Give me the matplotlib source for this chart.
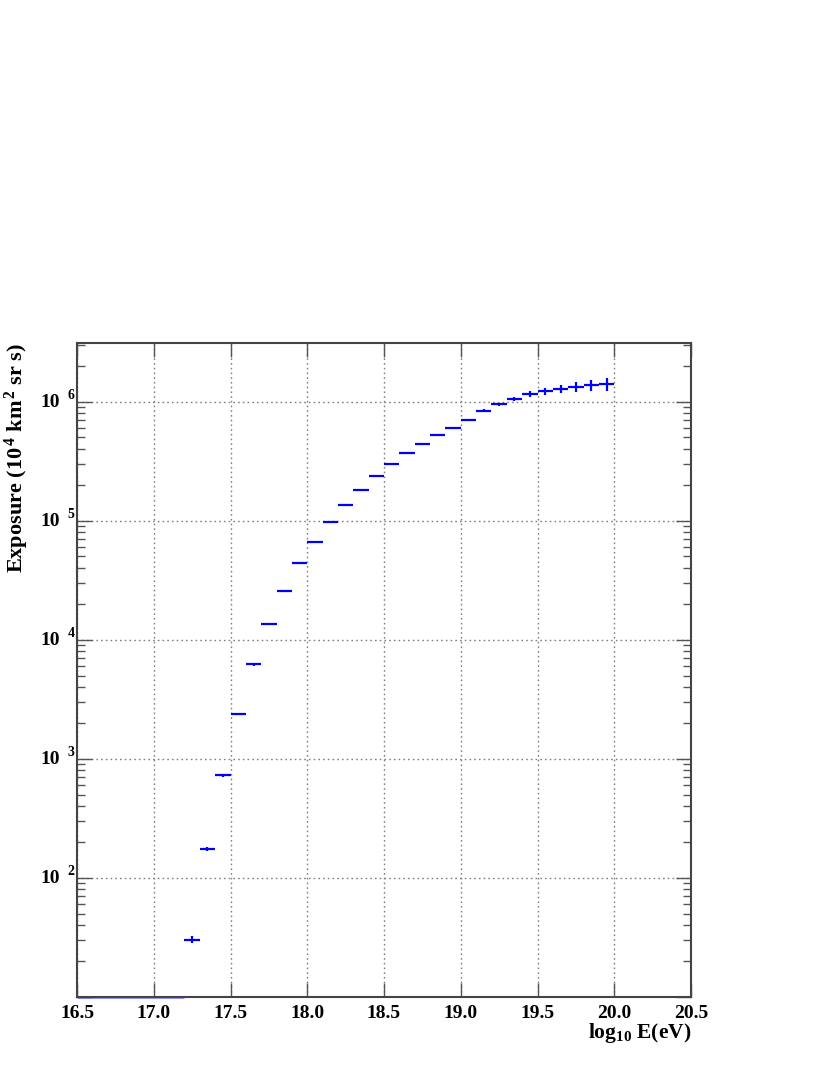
import numpy as np
import matplotlib
matplotlib.use('Agg')
import matplotlib.pyplot as plt
import matplotlib.transforms as mtransforms
from matplotlib.ticker import LogLocator, NullFormatter, FixedLocator

plt.rcParams['font.family'] = ['Liberation Serif', 'DejaVu Serif']
plt.rcParams['font.weight'] = 'bold'
plt.rcParams['mathtext.fontset'] = 'custom'
plt.rcParams['mathtext.rm'] = 'Liberation Serif:bold'
plt.rcParams['mathtext.it'] = 'Liberation Serif:bold'
plt.rcParams['mathtext.bf'] = 'Liberation Serif:bold'

# ---- data ----
log_energy = [17.25, 17.35, 17.45, 17.55, 17.65, 17.75, 17.85, 17.95,
              18.05, 18.15, 18.25, 18.35, 18.45, 18.55, 18.65, 18.75,
              18.85, 18.95, 19.05, 19.15, 19.25, 19.35, 19.45, 19.55,
              19.65, 19.75, 19.85, 19.95]
exposure = [30.3, 174, 729, 2373, 6203, 13630, 25800, 43800,
            66200, 96800, 134500, 181000, 236000, 297000, 368000, 441000,
            521000, 605000, 702000, 836000, 949000, 1054000, 1151000, 1220000,
            1276000, 1326000, 1370000, 1396000]
rel_error = [0.064, 0.039, 0.029, 0.019, 0.025, 0.014, 0.014, 0.019,
             0.025, 0.019, 0.014, 0.014, 0.014, 0.014, 0.014, 0.014,
             0.014, 0.014, 0.019, 0.029, 0.029, 0.039, 0.059, 0.064,
             0.080, 0.090, 0.100, 0.120]
bin_half_width = 0.05
empty_bins = [16.5, 17.2]          # bins with zero exposure (drawn at the floor)
x_ticks = [16.5, 17.0, 17.5, 18.0, 18.5, 19.0, 19.5, 20.0, 20.5]
x_tick_labels = ['16.5', '17.0', '17.5', '18.0', '18.5', '19.0', '19.5', '20.0', '20.5']
y_decades = [2, 3, 4, 5, 6]
x_limits = [16.5, 20.5]
y_limits = [10.0, 3.1e6]

W, H = 830, 1075
fig = plt.figure(figsize=(W / 100, H / 100), dpi=100)
ax = fig.add_axes([77 / W, 1 - 997 / H, (691 - 77) / W, (997 - 343) / H])
ax.set_yscale('log')
ax.set_xlim(*x_limits)
ax.set_ylim(*y_limits)

exp_arr = np.array(exposure)
yerr = exp_arr * np.array(rel_error)
ax.errorbar(log_energy, exp_arr, xerr=bin_half_width, yerr=yerr, fmt='none',
            ecolor='#0000ff', elinewidth=1.6, capsize=0, zorder=3)
ax.hlines(y_limits[0], empty_bins[0], empty_bins[1], colors='#0000ff',
          linewidth=2.0, zorder=2, clip_on=False, alpha=0.45)

# ticks
ax.xaxis.set_major_locator(FixedLocator(x_ticks))
ax.set_xticklabels(x_tick_labels, fontsize=14, fontweight='bold')
ax.yaxis.set_major_locator(LogLocator(base=10, numticks=20))
ax.yaxis.set_minor_locator(LogLocator(base=10, subs=np.arange(2, 10), numticks=20))
ax.yaxis.set_major_formatter(NullFormatter())
ax.yaxis.set_minor_formatter(NullFormatter())
ax.tick_params(axis='both', which='both', direction='in', top=True, right=True,
               color='#555555', width=1.0)
ax.tick_params(axis='x', which='major', length=10, pad=6)
ax.tick_params(axis='y', which='major', length=11)
ax.tick_params(axis='y', which='minor', length=6)

for s in ax.spines.values():
    s.set_color('#444444')
    s.set_linewidth(1.5)

ax.grid(True, which='major', linestyle=(0, (1.2, 2.2)), color='#808080', linewidth=1.0)

# y tick labels as ROOT-style "10 ^n"
trans = mtransforms.blended_transform_factory(ax.transAxes, ax.transData)
for d in y_decades:
    t1 = trans + mtransforms.ScaledTranslation(-0.17, -0.01, fig.dpi_scale_trans)
    ax.text(0, 10.0 ** d, '10', transform=t1, ha='right', va='center',
            fontsize=14, fontweight='bold')
    t2 = trans + mtransforms.ScaledTranslation(-0.095, 0.06, fig.dpi_scale_trans)
    ax.text(0, 10.0 ** d, str(d), transform=t2, ha='left', va='center',
            fontsize=10, fontweight='bold')

fig.text(17 / W, 1 - 343 / H, r'Exposure (10$^{\,4}$ km$^{\,2}$ sr s)', rotation=90,
         ha='center', va='top', fontsize=16, fontweight='bold')
fig.text(691 / W, 1 - 1038 / H, r'log$_{10}$ E(eV)', ha='right', va='baseline',
         fontsize=15.5, fontweight='bold')

fig.savefig('out.png', dpi=100)
